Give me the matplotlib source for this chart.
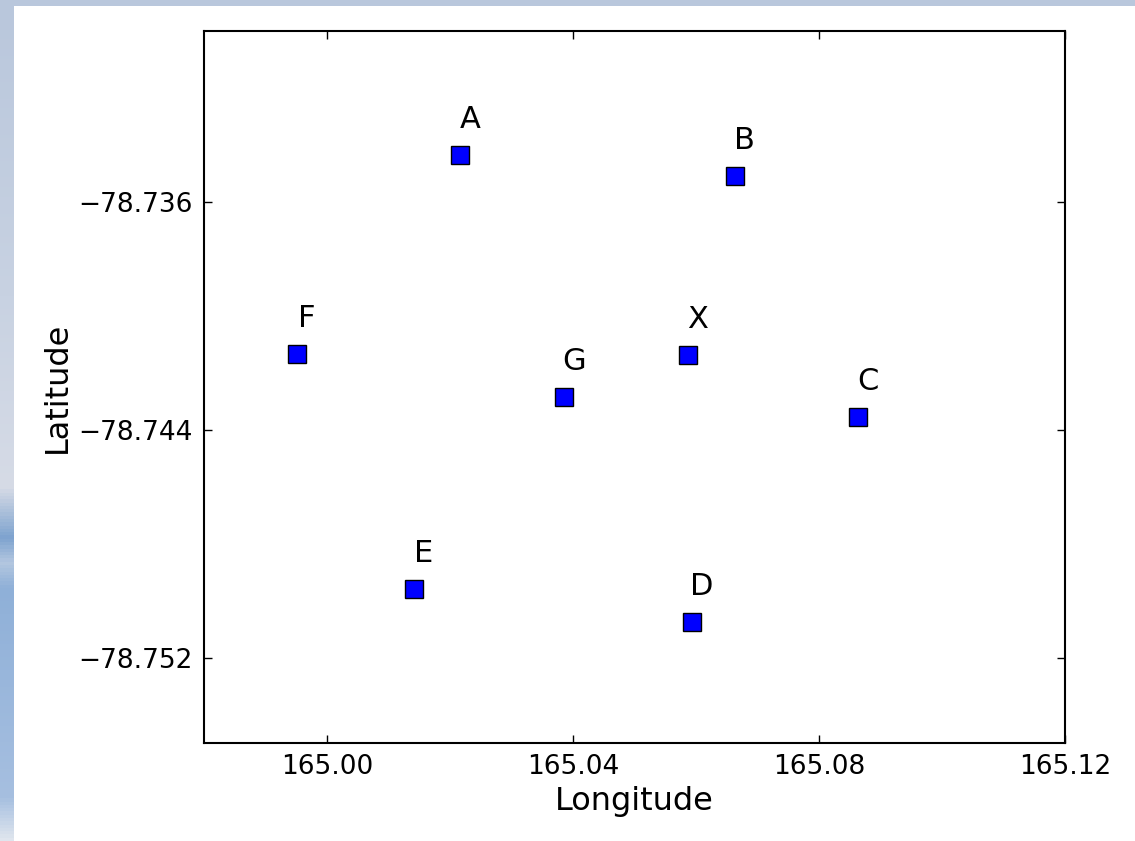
import numpy as np
import matplotlib
matplotlib.use('Agg')
import matplotlib.pyplot as plt
from matplotlib.colors import LinearSegmentedColormap
from matplotlib.patches import Rectangle

# Station positions
names = ['A', 'B', 'F', 'X', 'G', 'C', 'E', 'D']
lons = [165.0217, 165.0663, 164.9951, 165.0587, 165.0386, 165.0864, 165.0141, 165.0593]
lats = [-78.73435, -78.73510, -78.74133, -78.74137, -78.74284, -78.74354, -78.74958, -78.75074]

fig = plt.figure(figsize=(11.35, 8.41), dpi=100)
fig.patch.set_facecolor('#bdc9dd')

# slide background behind the figure (left strip gradient)
bg = fig.add_axes([0, 0, 1, 1], zorder=-2)
bg_cmap = LinearSegmentedColormap.from_list('bg', [
    (0.0, '#b9c7dc'), (0.35, '#c8d2e2'), (0.58, '#d6dbe6'),
    (0.64, '#7ea3cf'), (0.67, '#b3c7e0'), (0.70, '#8fb0d8'),
    (0.95, '#a6bfe0'), (1.0, '#dfe5ee')])
bg.imshow(np.linspace(0, 1, 256).reshape(-1, 1), cmap=bg_cmap, aspect='auto',
          extent=[0, 1, 0, 1], origin='upper')
bg.set_xlim(0, 1)
bg.set_ylim(0, 1)
bg.axis('off')
bg.add_patch(Rectangle((14 / 1135, 0), 1, 1 - 6 / 841, facecolor='white',
                       edgecolor='none'))

ax = fig.add_axes([204 / 1135, 1 - 743 / 841, (1065 - 204) / 1135, (743 - 31) / 841])
ax.plot(lons, lats, 's', color='blue', markersize=12.5, markeredgecolor='black',
        markeredgewidth=1.0)
for n, x, y in zip(names, lons, lats):
    ax.annotate(n, (x, y), xytext=(7, 15), textcoords='offset points',
                fontsize=22, ha='center', va='bottom')

ax.set_xlim(164.98, 165.12)
ax.set_ylim(-78.755, -78.730)
ax.set_xticks([165.00, 165.04, 165.08, 165.12])
ax.set_yticks([-78.752, -78.744, -78.736])
ax.xaxis.set_major_formatter(plt.FormatStrFormatter('%.2f'))
ax.yaxis.set_major_formatter(plt.FuncFormatter(lambda v, p: '\u2212%.3f' % abs(v)))
ax.tick_params(direction='in', top=True, right=True, length=6, width=1,
               labelsize=19, pad=8)
for s in ax.spines.values():
    s.set_linewidth(1.5)
ax.set_xlabel('Longitude', fontsize=23)
ax.set_ylabel('Latitude', fontsize=23)

fig.savefig('out.png', dpi=100, facecolor=fig.get_facecolor())
